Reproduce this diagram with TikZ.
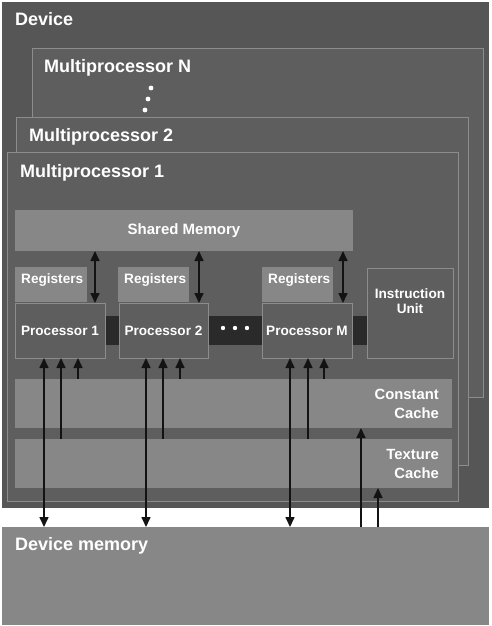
\documentclass[tikz,border=0pt]{standalone}
\usepackage{fontspec}
\setmainfont{Liberation Sans}
\usetikzlibrary{arrows.meta}
\definecolor{devgray}{HTML}{565656}
\definecolor{mpgray}{HTML}{5E5E5E}
\definecolor{edgegray}{HTML}{8C8C8C}
\definecolor{palegray}{HTML}{878787}
\definecolor{busgray}{HTML}{2A2A2A}
\definecolor{arrowgray}{HTML}{131313}

\begin{document}
\begin{tikzpicture}[x=1pt, y=-1pt,
    box/.style={inner sep=0pt, outer sep=0pt, anchor=north west, text=white},
    mp/.style={box, fill=mpgray, draw=edgegray, line width=0.8pt},
    pale/.style={box, fill=palegray},
    bus/.style={box, fill=busgray},
    proc/.style={mp, minimum height=55, font=\bfseries\fontsize{13.6}{16}\selectfont},
    big/.style={inner sep=0pt, anchor=base west, text=white, font=\bfseries\fontsize{18}{21}\selectfont},
    small/.style={inner sep=0pt, anchor=base west, text=white, font=\bfseries\fontsize{13.6}{15.5}\selectfont},
    cache/.style={inner sep=0pt, anchor=east, align=right, text=white, font=\bfseries\fontsize{14.8}{18.5}\selectfont},
    wire/.style={draw=arrowgray, line width=1.6pt},
    >={Triangle[length=10pt,width=9pt]}]
    \fill[white] (0,0) rectangle (492,626);
    \useasboundingbox (0,0) rectangle (492,626);
    % device and the stacked multiprocessors
    \node[box, fill=devgray, minimum width=487, minimum height=506] (dev) at (2,2) {};
    \node[big] (devlbl) at (15,26) {Device};
    \node[mp, minimum width=451, minimum height=349] (mpN) at (32,48) {};
    \node[big] (mpNlbl) at (44,73) {Multiprocessor N};
    \fill[white] (151,88) circle (2.4) (148,99) circle (2.4) (145,110) circle (2.4);
    \node[mp, minimum width=452, minimum height=348] (mp2) at (16,117) {};
    \node[big] (mp2lbl) at (29,141) {Multiprocessor 2};
    \node[mp, minimum width=451, minimum height=349] (mp1) at (7,152) {};
    \node[big] (mp1lbl) at (20,177) {Multiprocessor 1};
    % inside multiprocessor 1
    \node[pale, minimum width=338, minimum height=41,
        font=\bfseries\fontsize{15}{18}\selectfont] (shm) at (15,210) {Shared Memory};
    \node[pale, minimum width=72, minimum height=35] (reg1) at (15,267) {};
    \node[pale, minimum width=71, minimum height=35] (reg2) at (118,267) {};
    \node[pale, minimum width=71, minimum height=35] (regM) at (262,267) {};
    \node[small] (reg1lbl) at (21,283) {Registers};
    \node[small] (reg2lbl) at (124,283) {Registers};
    \node[small] (regMlbl) at (268,283) {Registers};
    \node[bus, minimum width=14, minimum height=29] (bus1) at (105,316) {};
    \node[bus, minimum width=54, minimum height=29] (bus2) at (208,316) {};
    \node[bus, minimum width=15, minimum height=29] (bus3) at (352,316) {};
    \fill[white] (223,328) circle (2.2) (235,328) circle (2.2) (247,328) circle (2.2);
    \node[proc, minimum width=90] (p1) at (15,303) {Processor 1};
    \node[proc, minimum width=89] (p2) at (119,303) {Processor 2};
    \node[proc, minimum width=90] (pM) at (262,303) {Processor M};
    \node[mp, minimum width=86, minimum height=90] (iu) at (367,268) {};
    \node[small, anchor=north, align=center] (iulbl) at (410,288) {Instruction\\Unit};
    \node[pale, minimum width=437, minimum height=49] (const) at (15,379) {};
    \node[cache] (constlbl) at (439,404) {Constant\\Cache};
    \node[pale, minimum width=437, minimum height=49] (tex) at (15,439) {};
    \node[cache] (texlbl) at (439,464) {Texture\\Cache};
    % device memory
    \node[pale, minimum width=487, minimum height=98] (mem) at (2,527) {};
    \node[big] (memlbl) at (15,550) {Device memory};
    % shared memory links
    \draw[wire, <->] (shm.south -| 95,0) -- (p1.north -| 95,0);
    \draw[wire, <->] (shm.south -| 199,0) -- (p2.north -| 199,0);
    \draw[wire, <->] (shm.south -| 343,0) -- (pM.north -| 343,0);
    % processor 1
    \draw[wire, <->] (p1.south -| 44,0) -- (mem.north -| 44,0);
    \draw[wire, ->] (tex.north -| 61,0) -- (p1.south -| 61,0);
    \draw[wire, ->] (const.north -| 78,0) -- (p1.south -| 78,0);
    % processor 2
    \draw[wire, <->] (p2.south -| 146,0) -- (mem.north -| 146,0);
    \draw[wire, ->] (tex.north -| 163,0) -- (p2.south -| 163,0);
    \draw[wire, ->] (const.north -| 180,0) -- (p2.south -| 180,0);
    % processor M
    \draw[wire, <->] (pM.south -| 290,0) -- (mem.north -| 290,0);
    \draw[wire, ->] (tex.north -| 308,0) -- (pM.south -| 308,0);
    \draw[wire, ->] (const.north -| 324,0) -- (pM.south -| 324,0);
    % caches
    \draw[wire, ->] (mem.north -| 361,0) -- (const.south -| 361,0);
    \draw[wire, ->] (mem.north -| 378,0) -- (tex.south -| 378,0);
\end{tikzpicture}
\end{document}
